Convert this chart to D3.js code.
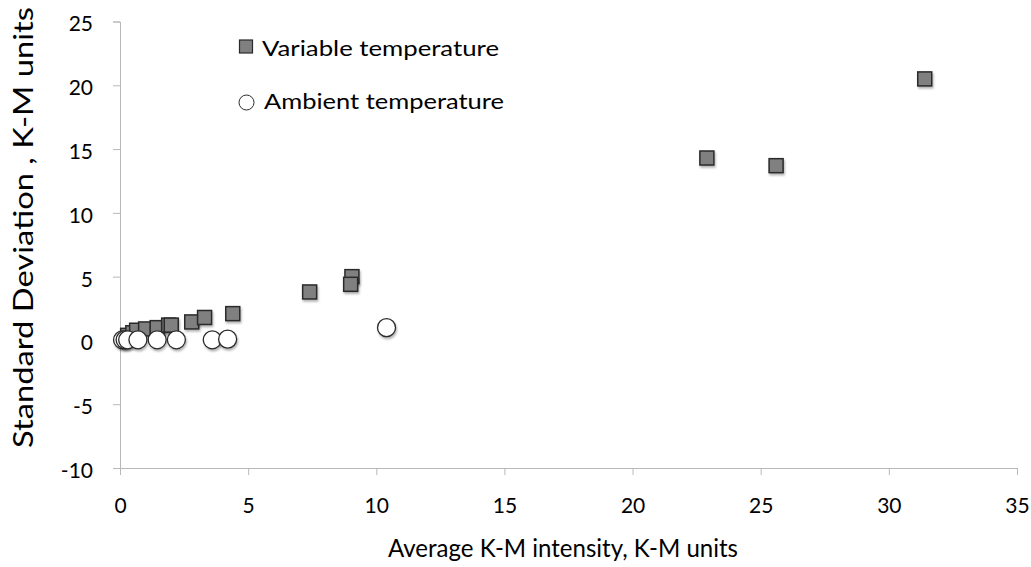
<!DOCTYPE html>
<html><head><meta charset="utf-8">
<script src="https://cdn.jsdelivr.net/npm/d3@7"></script>
<style>body{margin:0;background:#fff;} text{font-family:Lato, "Open Sans", sans-serif;fill:#000;}</style>
</head><body>
<svg id="c" width="1031" height="567"></svg>
<script>
const varX = [0.3, 0.5, 0.65, 1.0, 1.45, 1.9, 2.0, 2.8, 3.3, 4.4, 7.4, 9.05, 9.0, 22.9, 25.6, 31.4];
const varY = [0.4, 0.6, 0.8, 0.9, 1.0, 1.2, 1.2, 1.45, 1.8, 2.1, 3.8, 5.0, 4.4, 14.3, 13.7, 20.5];
const ambX = [0.1, 0.2, 0.3, 0.7, 1.45, 2.2, 3.6, 4.2, 10.4];
const ambY = [0.05, 0.05, 0.05, 0.05, 0.05, 0.05, 0.05, 0.1, 1.0];
const xTicks = [0, 5, 10, 15, 20, 25, 30, 35];
const yTicks = [-10, -5, 0, 5, 10, 15, 20, 25];
const seriesNames = ["Variable temperature", "Ambient temperature"];
const xTitle = "Average K-M intensity, K-M units";
const yTitle = "Standard Deviation , K-M units";

const svg = d3.select("#c");
const x = d3.scaleLinear().domain([0, 35]).range([120, 1017]);
const y = d3.scaleLinear().domain([-10, 25]).range([468, 21.5]);

const defs = svg.append("defs");
const f = defs.append("filter").attr("id","sh").attr("x","-50%").attr("y","-50%").attr("width","200%").attr("height","200%");
f.append("feDropShadow").attr("dx",1).attr("dy",2).attr("stdDeviation",1.2).attr("flood-color","#000").attr("flood-opacity",0.3);

const axisColor = "#b8b8b8";
const gx = svg.append("g").attr("transform", "translate(0,468)")
  .call(d3.axisBottom(x).tickValues(xTicks).tickSize(7).tickPadding(23).tickFormat(d3.format("d")));
const gy = svg.append("g").attr("transform", "translate(120,0)")
  .call(d3.axisLeft(y).tickValues(yTicks).tickSize(7).tickPadding(20).tickFormat(d => d < 0 ? "-" + Math.abs(d) : String(d)));
[gx, gy].forEach(g => {
  g.select(".domain").attr("stroke", axisColor).attr("stroke-width", 1);
  g.selectAll(".tick line").attr("stroke", axisColor);
  g.selectAll(".tick text").style("font-family","Lato, 'Open Sans', sans-serif").style("font-size","21px").attr("fill","#000");
});
gy.selectAll(".tick text").attr("dy", "0.45em");

const s = 14;
svg.append("g").selectAll("rect").data(varX).join("rect")
  .attr("x", (d,i) => x(d) - s/2).attr("y", (d,i) => y(varY[i]) - s/2)
  .attr("width", s).attr("height", s)
  .attr("fill", "#808080").attr("stroke", "#2a2a2a").attr("stroke-width", 1.5)
  .attr("filter", "url(#sh)");

svg.append("g").selectAll("circle").data(ambX).join("circle")
  .attr("cx", d => x(d)).attr("cy", (d,i) => y(ambY[i])).attr("r", 9)
  .attr("fill", "#fff").attr("stroke", "#2a2a2a").attr("stroke-width", 1.3)
  .attr("filter", "url(#sh)");

// legend
const lg = svg.append("g");
lg.append("rect").attr("x", 239.5).attr("y", 40).attr("width", 13).attr("height", 13)
  .attr("fill", "#808080").attr("stroke", "#2a2a2a").attr("stroke-width", 1.2);
lg.append("text").attr("x", 262).attr("y", 56).style("font-size","22px")
  .attr("textLength", 237).attr("lengthAdjust","spacingAndGlyphs").text(seriesNames[0]);
lg.append("circle").attr("cx", 246.5).attr("cy", 102.5).attr("r", 7.5)
  .attr("fill", "#fff").attr("stroke", "#2a2a2a").attr("stroke-width", 1);
lg.append("text").attr("x", 264).attr("y", 109).style("font-size","22px")
  .attr("textLength", 240).attr("lengthAdjust","spacingAndGlyphs").text(seriesNames[1]);

svg.append("text").attr("x", 388).attr("y", 557)
  .style("font-size","25px").attr("textLength", 350).attr("lengthAdjust","spacingAndGlyphs").text(xTitle);
svg.append("text").attr("transform","translate(33,448) rotate(-90)")
  .style("font-size","27px").attr("textLength", 441).attr("lengthAdjust","spacingAndGlyphs").text(yTitle);
</script>
</body></html>
